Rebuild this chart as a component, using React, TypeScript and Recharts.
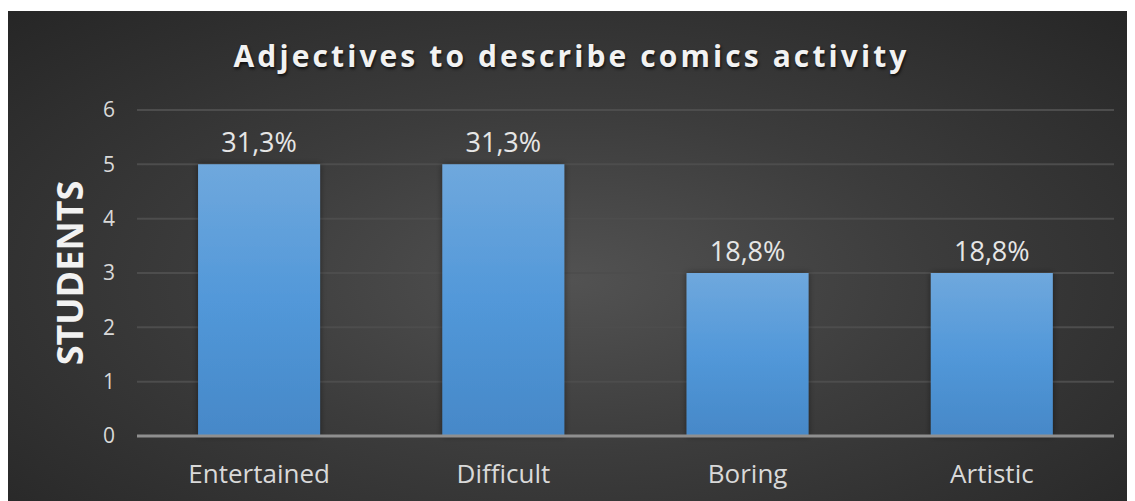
import { Bar, BarChart, CartesianGrid, LabelList, XAxis, YAxis } from 'recharts';

const categories = ['Entertained', 'Difficult', 'Boring', 'Artistic'];
const students = [5, 5, 3, 3];
const percentLabels = ['31,3%', '31,3%', '18,8%', '18,8%'];
const yTicks = [0, 1, 2, 3, 4, 5, 6];

const data = categories.map((name, i) => ({
  name,
  students: students[i],
  pct: percentLabels[i],
}));

const FONT = '"Open Sans", "Noto Sans", sans-serif';

export default function App() {
  return (
    <div
      style={{
        position: 'relative',
        width: 1127,
        height: 490,
        marginTop: 3,
        background: 'radial-gradient(ellipse at 50% 55%, #525252 0%, #3c3c3c 45%, #262626 100%)',
        fontFamily: FONT,
      }}
    >
      <div
        style={{
          position: 'absolute',
          top: 24,
          left: 0,
          width: 1127,
          textAlign: 'center',
          color: '#f2f2f2',
          fontSize: 30,
          fontWeight: 700,
          letterSpacing: 3.1,
          textShadow: '1px 2px 3px rgba(0,0,0,0.7)',
        }}
      >
        Adjectives to describe comics activity
      </div>
      <BarChart
        width={1127}
        height={490}
        data={data}
        margin={{ top: 99, right: 21, left: 0, bottom: 15 }}
        barCategoryGap="25%"
      >
        <defs>
          <linearGradient id="barFill" x1="0" y1="0" x2="0" y2="1">
            <stop offset="0%" stopColor="#6fa8dd" />
            <stop offset="50%" stopColor="#5298d9" />
            <stop offset="100%" stopColor="#4688c8" />
          </linearGradient>
          <filter id="barShadow" x="-10%" y="-10%" width="120%" height="120%">
            <feDropShadow dx="0" dy="0" stdDeviation="3" floodColor="#000" floodOpacity="0.45" />
          </filter>
        </defs>
        <CartesianGrid vertical={false} stroke="#4d4d4d" strokeWidth={2} />
        <XAxis
          dataKey="name"
          axisLine={{ stroke: '#8f8f8f', strokeWidth: 3 }}
          tickLine={false}
          tick={{ fill: '#d9d9d9', fontSize: 26, fontFamily: FONT }}
          tickMargin={23}
          height={50}
        />
        <YAxis
          domain={[0, 6]}
          ticks={yTicks}
          interval={0}
          axisLine={false}
          tickLine={false}
          width={129}
          tick={{ fill: '#d9d9d9', fontSize: 21, fontFamily: FONT }}
          tickMargin={16}
          label={{
            content: ({ viewBox }: any) => {
              const cy = viewBox.y + viewBox.height / 2;
              return (
                <text
                  x={61}
                  y={cy}
                  transform={`rotate(-90, 61, ${cy})`}
                  textAnchor="middle"
                  dominantBaseline="central"
                  fill="#f2f2f2"
                  fontSize={36}
                  fontWeight={700}
                  fontFamily={FONT}
                >
                  STUDENTS
                </text>
              );
            },
          }}
        />
        <Bar
          dataKey="students"
          fill="url(#barFill)"
          filter="url(#barShadow)"
          isAnimationActive={false}
        >
          <LabelList
            dataKey="pct"
            position="top"
            offset={12}
            fill="#e6e6e6"
            fontSize={27}
            fontFamily={FONT}
          />
        </Bar>
      </BarChart>
    </div>
  );
}
